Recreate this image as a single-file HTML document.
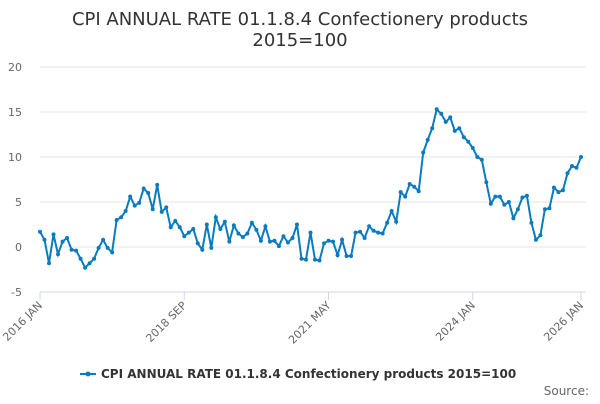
<!DOCTYPE html>
<html><head><meta charset="utf-8"><style>
body{margin:0;background:#fff;font-family:"DejaVu Sans",sans-serif;}
svg text{font-family:"DejaVu Sans",sans-serif;}
</style></head><body>
<svg id="c" width="600" height="400">
<text x="300" y="25" text-anchor="middle" font-size="18" fill="#333">CPI ANNUAL RATE 01.1.8.4 Confectionery products</text>
<text x="300" y="46" text-anchor="middle" font-size="18" fill="#333">2015=100</text>
<g id="grid"></g><g id="xax"></g><g id="series"></g>
<g>
<line x1="80" y1="374" x2="96" y2="374" stroke="#0a7bbf" stroke-width="2"/>
<circle cx="88" cy="374" r="2.5" fill="#0a7bbf"/>
<text x="101" y="378" font-size="12" font-weight="bold" fill="#333">CPI ANNUAL RATE 01.1.8.4 Confectionery products 2015=100</text>
</g>
<text x="589" y="395" text-anchor="end" font-size="12" fill="#666">Source:</text>
</svg>
<script>
const yTicks=[-5,0,5,10,15,20];
const xLabels=["2016 JAN","2018 SEP","2021 MAY","2024 JAN","2026 JAN"];
const xLabelIdx=[0,32,64,96,120];
const values=[1.7,0.8,-1.8,1.4,-0.8,0.6,1.0,-0.3,-0.4,-1.3,-2.3,-1.8,
-1.3,-0.1,0.8,-0.1,-0.6,3.0,3.3,4.0,5.6,4.6,4.9,6.5,
6.0,4.2,6.9,3.9,4.4,2.2,2.9,2.2,1.2,1.6,2.0,0.4,
-0.3,2.5,-0.1,3.3,2.0,2.8,0.6,2.4,1.5,1.1,1.5,2.7,
1.9,0.7,2.3,0.6,0.7,0.1,1.2,0.5,1.0,2.5,-1.3,-1.4,
1.6,-1.4,-1.5,0.4,0.7,0.6,-0.9,0.8,-1.0,-1.0,1.6,1.7,
1.0,2.3,1.8,1.6,1.5,2.7,4.0,2.8,6.1,5.6,7.0,6.7,
6.2,10.5,11.9,13.2,15.3,14.8,13.9,14.4,12.9,13.2,12.2,11.7,
11.0,10.0,9.7,7.2,4.8,5.6,5.6,4.7,5.0,3.2,4.2,5.5,
5.7,2.7,0.8,1.3,4.2,4.3,6.6,6.1,6.3,8.2,9.0,8.8,
10.0];
const NS="http://www.w3.org/2000/svg";
const X0=40,X1=581,Y0=292,Y1=67;
const xs=i=>X0+(X1-X0)*i/(values.length-1);
const ys=v=>Y0+(Y1-Y0)*(v-(-5))/25;
function mk(t,a,p){const e=document.createElementNS(NS,t);for(const k in a)e.setAttribute(k,a[k]);p.appendChild(e);return e;}
const grid=document.getElementById('grid');
yTicks.forEach(t=>{
 const l=mk('line',{x1:X0,x2:X1+5,y1:ys(t),y2:ys(t),stroke:t===-5?'#ccd6eb':'#e6e6e6'},grid);
 
 
 const tx=mk('text',{x:22,y:ys(t)+4,'text-anchor':'end','font-size':11,fill:'#666'},grid);
 tx.textContent=t;
 
 
});
const xax=document.getElementById('xax');
xLabelIdx.forEach((ix,k)=>{
 const x=xs(ix);
 const tk=mk('line',{x1:x,x2:x,y1:Y0,y2:Y0+8,stroke:'#ccd6eb'},xax);
 
 
 const tx=mk('text',{x:x+3,y:Y0+14,'text-anchor':'end','font-size':11,fill:'#666',transform:`rotate(-45 ${x+3} ${Y0+14})`},xax);
 tx.textContent=xLabels[k];
 
 
});
const s=document.getElementById('series');
const p=mk('path',{d:values.map((v,i)=>(i?'L':'M')+xs(i).toFixed(1)+' '+ys(v).toFixed(1)).join(''),fill:'none',stroke:'#0a7bbf','stroke-width':2},s);


values.forEach((v,i)=>{
 const c=mk('circle',{cx:xs(i),cy:ys(v),r:2,fill:'#0a7bbf'},s);
 
 
});
</script>
</body></html>
